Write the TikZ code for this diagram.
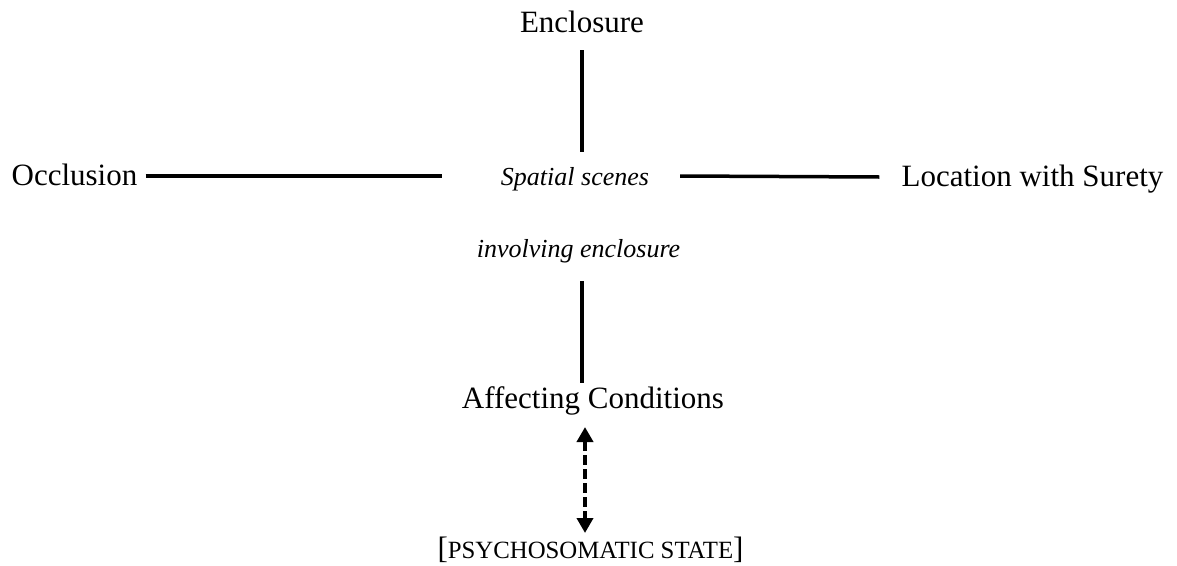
\documentclass[tikz,border=0pt]{standalone}
\usepackage{fontspec}
\setmainfont{Liberation Serif}
\usetikzlibrary{calc,arrows.meta}

\tikzset{
  term/.style={inner sep=0pt, anchor=base, font=\fontsize{31}{36}\selectfont},
  sub/.style={inner sep=0pt, anchor=base, font=\fontsize{26}{30}\selectfont\itshape},
  conn/.style={line width=3.5pt},
  link/.style={line width=4.5pt, dash pattern=on 10pt off 4pt,
    {Triangle[width=16pt,length=15pt]}-{Triangle[width=16pt,length=15pt]}}
}
\newcommand{\bigbr}[1]{{\fontsize{31}{36}\selectfont #1}}

\begin{document}
\begin{tikzpicture}[x=1pt,y=-1pt]
  \useasboundingbox (0,0) rectangle (1177,565);

  % labels (placed by baseline)
  \node[term] (enc) at (582,32) {Enclosure};
  \node[term] (occ) at (74.5,185) {Occlusion};
  \node[term] (loc) at (1032.5,186) {Location with Surety};
  \node[sub] (scenes) at (575,185) {Spatial scenes};
  \node[sub] (inv) at (578.5,257) {involving enclosure};
  \node[term] (aff) at (593,408) {Affecting Conditions};
  \node[inner sep=0pt, anchor=base, font=\fontsize{24.8}{28}\selectfont] (psy) at (590.5,558)
    {\bigbr{[}PSYCHOSOMATIC STATE\bigbr{]}};

  % solid connectors around the central scene
  \draw[conn] ($(enc.base)+(0,18)$) -- ($(enc.base |- scenes.base)+(0,-33)$);
  \draw[conn] ($(occ.base east)+(8,-9)$) -- ($(scenes.base west)+(-59,-9)$);
  \draw[conn] ($(scenes.base east)+(31,-9)$) -- ($(loc.base west)+(-22,-9)$);
  \draw[conn] ($(enc.base |- inv.base)+(0,24)$) -- ($(enc.base |- aff.base)+(0,-25)$);

  % two-way dashed link
  \draw[link] ($(aff.base)+(-8,19)$) -- ($(psy.base)+(-5.5,-25)$);
\end{tikzpicture}
\end{document}
